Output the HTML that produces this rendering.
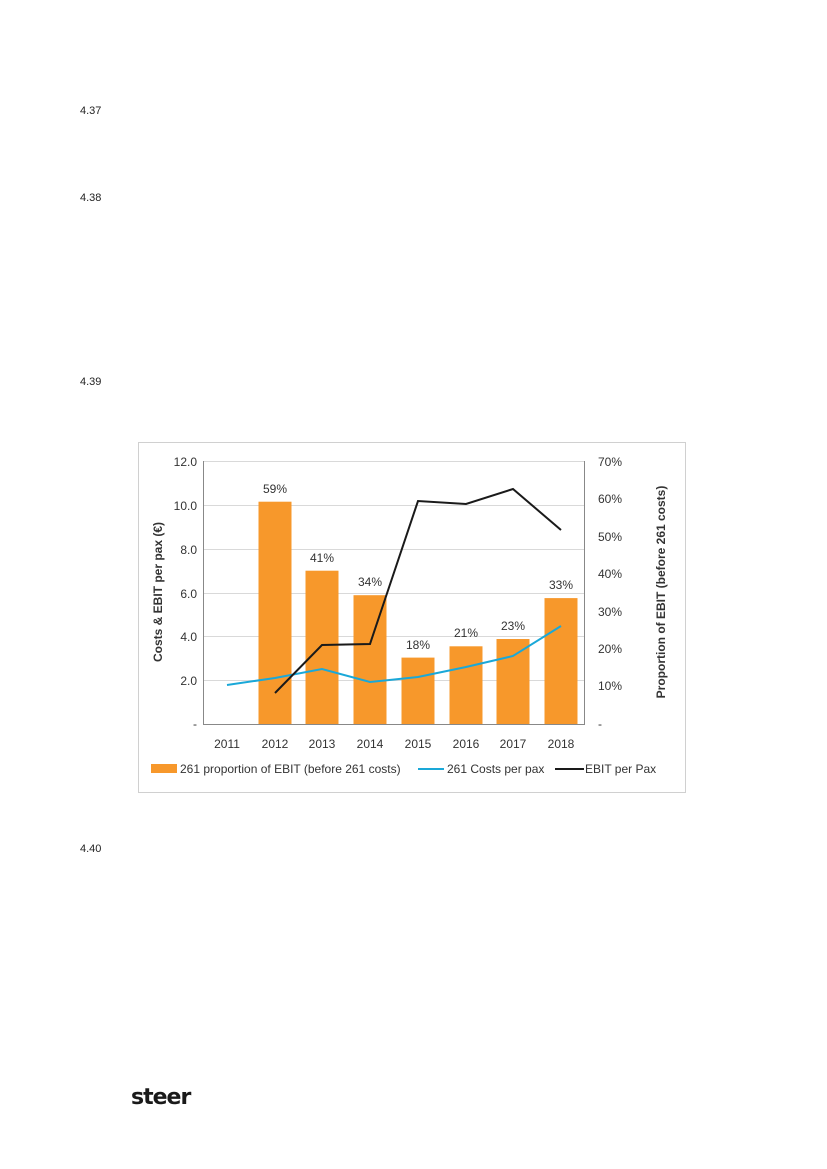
<!DOCTYPE html>
<html><head><meta charset="utf-8"><style>
body{margin:0;width:827px;height:1169px;background:#fff;position:relative;font-family:"Liberation Sans",sans-serif;}
.n{position:absolute;left:80px;font-size:11px;color:#222;}
</style></head><body>
<div class="n" style="top:105px">4.37</div>
<div class="n" style="top:192px">4.38</div>
<div class="n" style="top:376px">4.39</div>
<div class="n" style="top:843px">4.40</div>
<div style="position:absolute;left:131px;top:1085px;font-size:22px;font-weight:bold;color:#1a1a1a;letter-spacing:-1px;font-family:'DejaVu Sans',sans-serif">steer</div>
<svg width="827" height="1169" style="position:absolute;left:0;top:0" font-family="Liberation Sans, sans-serif">
<rect x="138.5" y="442.5" width="547" height="350" fill="none" stroke="#d0d0d0"/>
<g stroke="#d9d9d9" stroke-width="1">
<line x1="203" x2="585" y1="461.5" y2="461.5"/><line x1="203" x2="585" y1="505.5" y2="505.5"/><line x1="203" x2="585" y1="549.5" y2="549.5"/><line x1="203" x2="585" y1="593.5" y2="593.5"/><line x1="203" x2="585" y1="636.5" y2="636.5"/><line x1="203" x2="585" y1="680.5" y2="680.5"/>
</g>
<g fill="#f7982b">
<rect x="258.5" y="501.7" width="33" height="222.3"/>
<rect x="305.5" y="570.7" width="33" height="153.3"/>
<rect x="353.5" y="595.2" width="33" height="128.8"/>
<rect x="401.5" y="657.6" width="33" height="66.4"/>
<rect x="449.5" y="646.3" width="33" height="77.7"/>
<rect x="496.5" y="639" width="33" height="85"/>
<rect x="544.5" y="598.1" width="33" height="125.9"/>
</g>
<g stroke="#888" stroke-width="1" fill="none">
<line x1="203.5" y1="461" x2="203.5" y2="724"/><line x1="584.5" y1="461" x2="584.5" y2="724"/>
<line x1="203" y1="724.5" x2="585" y2="724.5"/>
</g>
<polyline fill="none" stroke="#1aa8d8" stroke-width="2" points="227,685 275,678 322,669 370,682 418,677 466,667 513,656 561,626"/>
<polyline fill="none" stroke="#1a1a1a" stroke-width="2" points="275,693 322,645 370,644 418,501 466,504 513,489 561,530"/>
<g font-size="12" fill="#333" text-anchor="end">
<text x="197" y="466">12.0</text><text x="197" y="510">10.0</text><text x="197" y="554">8.0</text><text x="197" y="598">6.0</text><text x="197" y="641">4.0</text><text x="197" y="685">2.0</text><text x="197" y="728">-</text>
</g>
<g font-size="12" fill="#333">
<text x="598" y="466">70%</text><text x="598" y="503">60%</text><text x="598" y="541">50%</text><text x="598" y="578">40%</text><text x="598" y="616">30%</text><text x="598" y="653">20%</text><text x="598" y="690">10%</text><text x="598" y="728">-</text>
</g>
<g font-size="12" fill="#333" text-anchor="middle">
<text x="227" y="748">2011</text><text x="275" y="748">2012</text><text x="322" y="748">2013</text><text x="370" y="748">2014</text><text x="418" y="748">2015</text><text x="466" y="748">2016</text><text x="513" y="748">2017</text><text x="561" y="748">2018</text>
<text x="275" y="493">59%</text><text x="322" y="562">41%</text><text x="370" y="586">34%</text><text x="418" y="649">18%</text><text x="466" y="637">21%</text><text x="513" y="630">23%</text><text x="561" y="589">33%</text>
</g>
<text transform="translate(162,592) rotate(-90)" font-size="12" font-weight="bold" fill="#333" text-anchor="middle">Costs &amp; EBIT per pax (€)</text>
<text transform="translate(665,592) rotate(-90)" font-size="12" font-weight="bold" fill="#333" text-anchor="middle">Proportion of EBIT (before 261 costs)</text>
<rect x="151" y="764" width="26" height="9" fill="#f7982b"/>
<text x="180" y="773" font-size="12" fill="#333">261 proportion of EBIT (before 261 costs)</text>
<line x1="418" x2="444" y1="769" y2="769" stroke="#1aa8d8" stroke-width="2"/>
<text x="447" y="773" font-size="12" fill="#333">261 Costs per pax</text>
<line x1="555" x2="584" y1="769" y2="769" stroke="#1a1a1a" stroke-width="2"/>
<text x="585" y="773" font-size="12" fill="#333">EBIT per Pax</text>
</svg>
</body></html>
